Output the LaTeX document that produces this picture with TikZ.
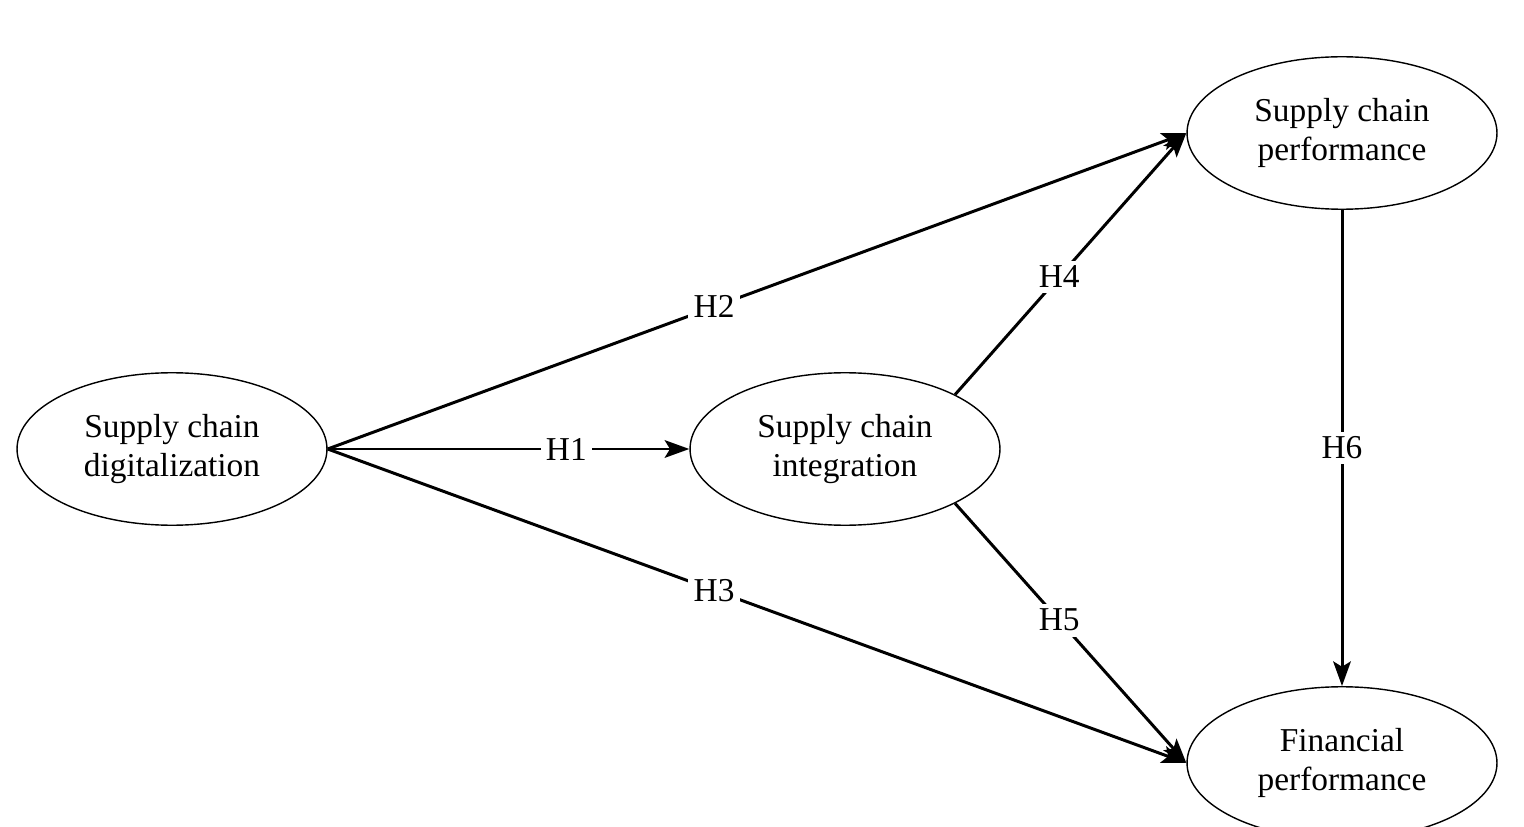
\documentclass[tikz,border=0pt]{standalone}
\usepackage{fontspec}
\setmainfont{Liberation Serif}
\usetikzlibrary{shapes,arrows.meta,positioning,calc}

\begin{document}
\begin{tikzpicture}[
    x=0.02cm, y=-0.02cm,
    construct/.style={ellipse, draw, thick, minimum width=6.2cm, minimum height=3.05cm, align=center, font=\fontsize{19}{22}\selectfont},
    arrow/.style={-{Stealth[length=14pt,width=10pt,inset=3pt]}, line width=1.7pt},
    hyp/.style={fill=white, inner sep=3pt, font=\fontsize{19}{22}\selectfont}
]
\useasboundingbox (0,0) rectangle (1524,827);

% Nodes
\node [construct] (dig) at (172,449) {Supply chain\\digitalization};
\node [construct] (int) at (845,449) {Supply chain\\integration};
\node [construct] (perf) at (1342,133) {Supply chain\\performance};
\node [construct] (fin) at (1342,763) {Financial\\performance};

% Paths
\draw [arrow] (dig.east) -- node[hyp, pos=0.66] {H1} (int.west);
\draw [arrow] (dig.east) -- node[hyp, pos=0.45] {H2} (perf.west);
\draw [arrow] (dig.east) -- node[hyp, pos=0.45] {H3} (fin.west);
\draw [arrow] (int.north east) -- node[hyp, pos=0.45] {H4} (perf.west);
\draw [arrow] (int.south east) -- node[hyp, pos=0.45] {H5} (fin.west);
\draw [arrow] (perf.south) -- node[hyp, pos=0.5] {H6} (fin.north);

\end{tikzpicture}
\end{document}
